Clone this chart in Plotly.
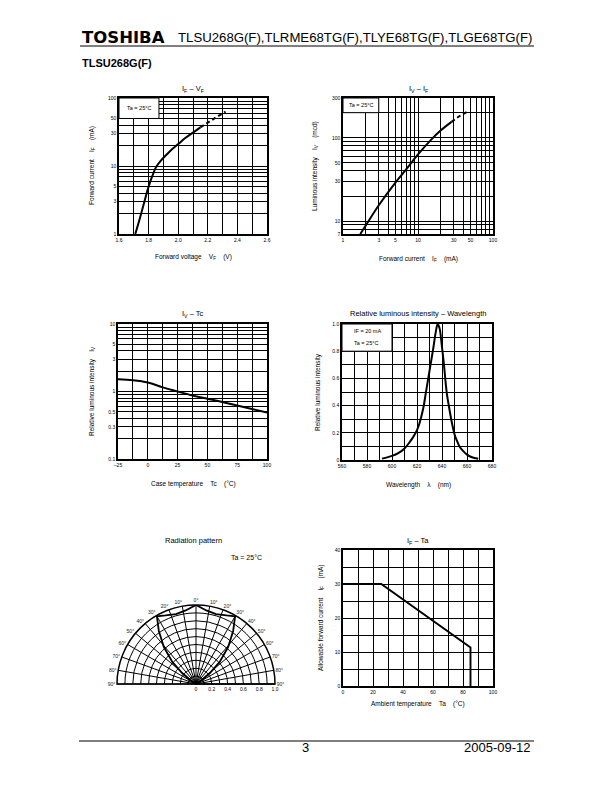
import math
import plotly.graph_objects as go

W, H = 612, 792
FONT = "Liberation Sans, Arial, sans-serif"

# ---------------- data ----------------
# IF - VF
vf_solid = [1.71, 1.73, 1.75, 1.77, 1.79, 1.81, 1.83, 1.85, 1.88, 1.92, 1.96, 2.00, 2.05, 2.10, 2.15]
if_solid = [1.0, 1.4, 2.0, 2.9, 4.2, 5.8, 7.6, 9.6, 11.8, 14.6, 17.8, 21, 26, 31, 37]
vf_dash = [2.15, 2.20, 2.25, 2.32]
if_dash = [37, 44, 51, 63]

# IV - IF
if2_solid = [1.7, 2, 3, 5, 7, 10, 15, 20, 28]
iv2_solid = [7, 8.8, 15.5, 29, 42, 63, 95, 122, 155]
if2_dash = [28, 35, 45]
iv2_dash = [155, 180, 205]

# IV - Tc
tc = [-25, -12.5, 0, 12.5, 25, 37.5, 50, 62.5, 75, 87.5, 100]
iv_tc = [1.52, 1.47, 1.36, 1.15, 1.0, 0.87, 0.78, 0.70, 0.62, 0.55, 0.49]

# Relative luminous intensity - wavelength
wl = [592, 600, 605, 610, 614, 617, 620, 622, 625, 627, 629, 631, 633, 635, 636.5, 638, 640,
      642, 643, 644, 646, 648, 650, 652, 654, 657, 660, 664, 669]
rel = [0.01, 0.03, 0.05, 0.085, 0.13, 0.17, 0.22, 0.27, 0.38, 0.49, 0.6, 0.71, 0.82, 0.94, 1.0, 0.97, 0.83,
       0.66, 0.56, 0.48, 0.37, 0.27, 0.19, 0.14, 0.1, 0.065, 0.04, 0.02, 0.01]

# Radiation pattern (angle from axis in degrees, relative intensity)
rad_theta = [-60, -57, -52, -47, -41, -35, -30, -24, -16, -8, 0, 8, 16, 24, 30, 35, 41, 47, 52, 57, 60]
rad_r = [0, 0.08, 0.22, 0.41, 0.62, 0.82, 0.99, 0.95, 0.92, 0.94, 1.0, 0.94, 0.92, 0.95, 0.99,
         0.82, 0.62, 0.41, 0.22, 0.08, 0]

# IF - Ta
ta = [0, 25.5, 85, 85]
if_ta = [30, 30, 11.3, 0]

# tick definitions
log_grid_1_100 = [1, 2, 3, 4, 5, 6, 7, 8, 9, 10, 20, 30, 40, 50, 60, 70, 80, 90, 100]
log_lab_1_100 = ["1", "", "3", "", "5", "", "", "", "", "10", "", "30", "", "50", "", "", "", "", "100"]
vf_grid = [1.6, 1.7, 1.8, 1.9, 2.0, 2.1, 2.2, 2.3, 2.4, 2.5, 2.6]
vf_lab = ["1.6", "", "1.8", "", "2.0", "", "2.2", "", "2.4", "", "2.6"]
iv2_grid = [7, 8, 9, 10, 20, 30, 40, 50, 60, 70, 80, 90, 100, 200, 300]
iv2_lab = ["7", "", "", "10", "", "30", "", "50", "", "", "", "", "100", "", "300"]
tc_grid = [-25, -12.5, 0, 12.5, 25, 37.5, 50, 62.5, 75, 87.5, 100]
tc_lab = ["–25", "", "0", "", "25", "", "50", "", "75", "", "100"]
rel_log_grid = [0.1, 0.2, 0.3, 0.4, 0.5, 0.6, 0.7, 0.8, 0.9, 1, 2, 3, 4, 5, 6, 7, 8, 9, 10]
rel_log_lab = ["0.1", "", "0.3", "", "0.5", "", "", "", "", "1", "", "3", "", "5", "", "", "", "", "10"]
wl_grid = [560, 570, 580, 590, 600, 610, 620, 630, 640, 650, 660, 670, 680]
wl_lab = ["560", "", "580", "", "600", "", "620", "", "640", "", "660", "", "680"]
rel_grid = [0, 0.1, 0.2, 0.3, 0.4, 0.5, 0.6, 0.7, 0.8, 0.9, 1.0]
rel_lab = ["0", "", "0.2", "", "0.4", "", "0.6", "", "0.8", "", "1.0"]
ta_grid = [0, 10, 20, 30, 40, 50, 60, 70, 80, 90, 100]
ta_lab = ["0", "", "20", "", "40", "", "60", "", "80", "", "100"]
ift_grid = [0, 5, 10, 15, 20, 25, 30, 35, 40]
ift_lab = ["0", "", "10", "", "20", "", "30", "", "40"]
ang_left = [-90, -80, -70, -60, -50, -40, -30, -20, -10]
ang_left_alt = [270, 280, 290, 300, 310, 320, 330, 340, 350]
ang_left_text = ["90°", "80°", "70°", "60°", "50°", "40°", "30°", "20°", "10°"]
ang_right = [0, 10, 20, 30, 40, 50, 60, 70, 80, 90]
ang_right_text = ["0°", "10°", "20°", "30°", "40°", "50°", "60°", "70°", "80°", "90°"]
rad_ticks = [0, 0.1, 0.2, 0.3, 0.4, 0.5, 0.6, 0.7, 0.8, 0.9, 1.0]
rad_text = ["0", "", "0.2", "", "0.4", "", "0.6", "", "0.8", "", "1.0"]


def dx(a, b):
    return [a / W, b / W]


def dy(top, bottom):
    return [1 - bottom / H, 1 - top / H]


def px(x):
    return x / W


def py(y):
    return 1 - y / H


AX = dict(showgrid=True, gridcolor="black", gridwidth=1, showline=True, linecolor="black",
          linewidth=1.5, mirror=True, ticks="", zeroline=False, fixedrange=True,
          tickfont=dict(size=5, family=FONT, color="black"), tickmode="array")

LINE = dict(color="black", width=2)
DASH = dict(color="black", width=2, dash="4px,3px")

fig = go.Figure()

# chart 1
fig.add_trace(go.Scatter(x=vf_solid, y=if_solid, mode="lines", line=dict(LINE, shape="spline"),
                         xaxis="x", yaxis="y", showlegend=False))
fig.add_trace(go.Scatter(x=vf_dash, y=if_dash, mode="lines", line=DASH, xaxis="x", yaxis="y", showlegend=False))
# chart 2
fig.add_trace(go.Scatter(x=if2_solid, y=iv2_solid, mode="lines", line=dict(LINE, shape="spline"),
                         xaxis="x2", yaxis="y2", showlegend=False))
fig.add_trace(go.Scatter(x=if2_dash, y=iv2_dash, mode="lines", line=DASH, xaxis="x2", yaxis="y2", showlegend=False))
# chart 3
fig.add_trace(go.Scatter(x=tc, y=iv_tc, mode="lines", line=dict(LINE, shape="spline"),
                         xaxis="x3", yaxis="y3", showlegend=False))
# chart 4
fig.add_trace(go.Scatter(x=wl, y=rel, mode="lines", line=dict(LINE, shape="spline", smoothing=1.0),
                         xaxis="x4", yaxis="y4", showlegend=False))
# chart 6
fig.add_trace(go.Scatter(x=ta, y=if_ta, mode="lines", line=dict(color="black", width=1.9),
                         xaxis="x5", yaxis="y5", showlegend=False))
# radiation
fig.add_trace(go.Scatterpolar(theta=rad_theta, r=rad_r, mode="lines",
                              line=dict(color="black", width=1.8), subplot="polar", showlegend=False))

layout = dict(
    template="none",
    width=W, height=H, margin=dict(l=0, r=0, t=0, b=0),
    paper_bgcolor="white", plot_bgcolor="white", showlegend=False,
    font=dict(family=FONT, color="black"),
    xaxis=dict(AX, domain=dx(119, 267), anchor="y", range=[1.6, 2.6], tickvals=vf_grid, ticktext=vf_lab),
    yaxis=dict(AX, domain=dy(98, 234), anchor="x", type="log", range=[0, 2],
               tickvals=log_grid_1_100, ticktext=log_lab_1_100),
    xaxis2=dict(AX, domain=dx(343, 493), anchor="y2", type="log", range=[0, 2],
                tickvals=log_grid_1_100, ticktext=log_lab_1_100),
    yaxis2=dict(AX, domain=dy(98, 234), anchor="x2", type="log", range=[math.log10(7), math.log10(300)],
                tickvals=iv2_grid, ticktext=iv2_lab),
    xaxis3=dict(AX, domain=dx(118, 267), anchor="y3", range=[-25, 100], tickvals=tc_grid, ticktext=tc_lab),
    yaxis3=dict(AX, domain=dy(324, 459), anchor="x3", type="log", range=[-1, 1],
                tickvals=rel_log_grid, ticktext=rel_log_lab),
    xaxis4=dict(AX, domain=dx(342, 492), anchor="y4", range=[560, 680], tickvals=wl_grid, ticktext=wl_lab),
    yaxis4=dict(AX, domain=dy(324, 460), anchor="x4", range=[0, 1], tickvals=rel_grid, ticktext=rel_lab),
    xaxis5=dict(AX, domain=dx(343, 493), anchor="y5", range=[0, 100], tickvals=ta_grid, ticktext=ta_lab),
    yaxis5=dict(AX, domain=dy(550, 686), anchor="x5", range=[0, 40], tickvals=ift_grid, ticktext=ift_lab),
    polar=dict(
        domain=dict(x=dx(117, 275), y=dy(605, 684)), sector=[0, 180], bgcolor="white",
        angularaxis=dict(rotation=90, direction="clockwise", tickmode="array",
                         tickvals=ang_left + ang_right + ang_left_alt,
                         ticktext=ang_left_text + ang_right_text + ang_left_text,
                         showgrid=True, gridcolor="black", gridwidth=0.8,
                         showline=True, linecolor="black", linewidth=1.5, ticks="",
                         tickfont=dict(size=5, family=FONT, color="#222")),
        radialaxis=dict(range=[0, 1], tickmode="array", tickvals=rad_ticks, ticktext=rad_text, angle=0,
                        side="clockwise", showgrid=True, gridcolor="black", gridwidth=0.8,
                        showline=True, linecolor="black", linewidth=1.2, ticks="", tickangle=0,
                        tickfont=dict(size=5, family=FONT, color="black")),
    ),
)
fig.update_layout(**layout)

shapes = []
annotations = []


def ann(text, x, y, size, xanchor="center", angle=0, bold=False, family=FONT, xref="paper", yref="paper"):
    if bold:
        text = "<b>" + text + "</b>"
    annotations.append(dict(text=text, x=x, y=y, xref=xref, yref=yref, xanchor=xanchor, yanchor="middle",
                            showarrow=False, textangle=angle,
                            font=dict(size=size, family=family, color="black")))


NB = "\u00a0"
SP = NB * 4

# header
ann("TOSHIBA", px(80), py(37.5), 16.5, xanchor="left", bold=True, family="DejaVu Sans, sans-serif")
ann("TLSU268G(F),TLRME68TG(F),TLYE68TG(F),TLGE68TG(F)", px(534), py(37.5), 13.2, xanchor="right")
shapes.append(dict(type="line", xref="paper", yref="paper", x0=px(80), x1=px(534), y0=py(46), y1=py(46),
                   line=dict(color="black", width=1.2)))
ann("TLSU268G(F)", px(80), py(63), 11, xanchor="left", bold=True)

# footer
shapes.append(dict(type="line", xref="paper", yref="paper", x0=px(79), x1=px(534), y0=py(741), y1=py(741),
                   line=dict(color="black", width=1.2)))
ann("3", px(305), py(747), 13)
ann("2005-09-12", px(533), py(747), 13, xanchor="right")

# chart 1 texts
ann("I<sub>F</sub> – V<sub>F</sub>", px(193), py(89), 7.5)
ann("Forward voltage" + SP + "V<sub>F</sub>" + SP + "(V)", px(193), py(257), 6.5)
ann("Forward current" + SP + "I<sub>F</sub>" + SP + "(mA)", px(92), py(166), 6.5, angle=-90)
shapes.append(dict(type="rect", xref="x", yref="y", x0=1.6, x1=1.87, y0=50, y1=100,
                   fillcolor="white", line=dict(color="black", width=1), layer="between"))
ann("Ta = 25°C", 1.735, math.log10(71), 5.5, xref="x", yref="y")

# chart 2 texts
ann("I<sub>V</sub> – I<sub>F</sub>", px(418), py(89), 7.5)
ann("Forward current" + SP + "I<sub>F</sub>" + SP + "(mA)", px(418), py(259), 6.5)
ann("Luminous intensity" + SP + "I<sub>V</sub>" + SP + "(mcd)", px(315), py(166), 6.5, angle=-90)
shapes.append(dict(type="rect", xref="x2", yref="y2", x0=1, x1=3, y0=200, y1=300,
                   fillcolor="white", line=dict(color="black", width=1), layer="between"))
ann("Ta = 25°C", math.log10(1.75), math.log10(245), 5.5, xref="x2", yref="y2")

# chart 3 texts
ann("I<sub>V</sub> – Tc", px(193), py(314), 7.5)
ann("Case temperature" + SP + "Tc" + SP + "(°C)", px(193), py(484), 6.5)
ann("Relative luminous intensity" + SP + "I<sub>V</sub>", px(92), py(391), 6.5, angle=-90)

# chart 4 texts
ann("Relative luminous intensity – Wavelength", px(418), py(314), 7.5)
ann("Wavelength" + SP + "λ" + SP + "(nm)", px(418), py(485), 6.5)
ann("Relative luminous intensity", px(318), py(392), 6.5, angle=-90)
shapes.append(dict(type="rect", xref="x4", yref="y4", x0=560, x1=600, y0=0.8, y1=1.0,
                   fillcolor="white", line=dict(color="black", width=1), layer="between"))
ann("IF = 20 mA", 568, 0.945, 5.5, xref="x4", yref="y4", xanchor="left")
ann("Ta = 25°C", 568, 0.86, 5.5, xref="x4", yref="y4", xanchor="left")

# radiation texts
ann("Radiation pattern", px(193), py(540), 7.5)
ann("Ta = 25°C", px(246.5), py(557), 7)

# chart 6 texts
ann("I<sub>F</sub> – Ta", px(418), py(541), 7.5)
ann("Ambient temperature" + SP + "Ta" + SP + "(°C)", px(418), py(704), 6.5)
ann("Allowable forward current" + SP + "I<sub>F</sub>" + SP + "(mA)", px(321), py(618), 6.5, angle=-90)

fig.update_layout(shapes=shapes, annotations=annotations)
fig.write_html("out.html")
